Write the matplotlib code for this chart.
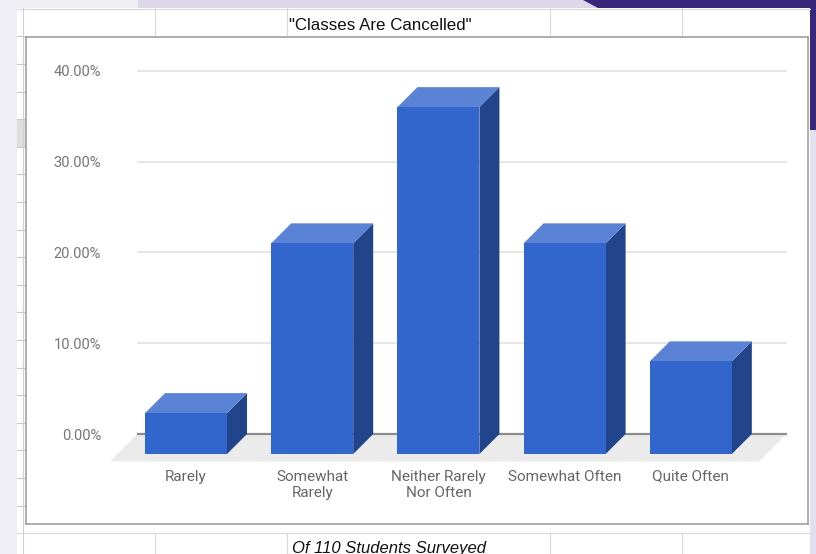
import numpy as np
import matplotlib.pyplot as plt
from matplotlib.patches import Polygon, Rectangle

# ---------------- data ----------------
categories = ["Rarely", "Somewhat\nRarely", "Neither Rarely\nNor Often", "Somewhat Often", "Quite Often"]
percent = [4.5, 23.2, 38.2, 23.2, 10.2]
y_ticks = [0, 10, 20, 30, 40]
title = '"Classes Are Cancelled"'
subtitle = "Of 110 Students Surveyed"

# ---------------- styling ----------------
FRONT = "#3366cc"
TOP = "#5b83d5"
SIDE = "#22448b"
FLOOR = "#ebebeb"
W, H = 816, 554


def fig_box(x0, y0, x1, y1):
    """pixel box (top-left origin) -> figure fraction rect args"""
    return (x0 / W, 1 - y1 / H), (x1 - x0) / W, (y1 - y0) / H


fig = plt.figure(figsize=(W / 100, H / 100), dpi=100)
fig.patch.set_facecolor("#efeef4")

# ---- surrounding screenshot decoration (spreadsheet + slide background) ----
def add_rect(x0, y0, x1, y1, color, z=0):
    xy, w, h = fig_box(x0, y0, x1, y1)
    fig.add_artist(Rectangle(xy, w, h, transform=fig.transFigure, color=color, zorder=z, lw=0))


def add_line(x0, y0, x1, y1, color, lw=1.0, z=1):
    fig.add_artist(plt.Line2D([x0 / W, x1 / W], [1 - y0 / H, 1 - y1 / H],
                              transform=fig.transFigure, color=color, lw=lw, zorder=z))


add_rect(138, 0, 600, 8, "#dcd8ea")
fig.add_artist(Polygon([(583 / W, 1), (W / W, 1), (W / W, 1 - 130 / H), (810 / W, 1 - 130 / H),
                        (810 / W, 1 - 8 / H), (598 / W, 1 - 8 / H)],
                       closed=True, transform=fig.transFigure, color="#38267a", lw=0, zorder=0))
add_rect(810, 130, 816, 554, "#e2dfee")
add_rect(17, 8, 810, 554, "white", z=0.5)
add_rect(17, 119, 26, 147, "#dedede", z=0.6)

# row markers on the left edge
for k in range(20):
    ry = 8.8 + 27.6 * k
    add_line(17, ry, 26, ry, "#c8c8c8", lw=0.8)
add_line(22.5, 8, 22.5, 554, "#cfcfcf", lw=0.8)

# header / footer cells
add_line(17, 8.5, 810, 8.5, "#d9d9d9", lw=0.8)
add_line(17, 533, 810, 533, "#d9d9d9", lw=0.8)
for cx in [155, 287, 550, 682]:
    add_line(cx, 8, cx, 37, "#d9d9d9", lw=0.8)
    add_line(cx, 533, cx, 554, "#d9d9d9", lw=0.8)

fig.text(289 / W, 1 - 25 / H, title, fontsize=12.2, family="Liberation Sans",
         ha="left", va="center", color="#111111")
fig.text(292 / W, 1 - 548 / H, subtitle, fontsize=12, family="Liberation Sans",
         style="italic", ha="left", va="center", color="#111111")

# ---------------- chart ----------------
xy, aw, ah = fig_box(26, 37, 808, 524)
ax = fig.add_axes([xy[0], xy[1], aw, ah])
ax.set_zorder(2)
ax.set_facecolor("white")

PX_X, PX_Y = 126.2, 9.08          # pixels per category / per percent
ZERO_PX, FIRST_PX = 434, 206      # pixel rows/cols of 0% and first back-centre
ax.set_xlim((26 - FIRST_PX) / PX_X, (808 - FIRST_PX) / PX_X)
ax.set_ylim((ZERO_PX - 524) / PX_Y, (ZERO_PX - 37) / PX_Y)

# depth offset in data units (from pixels)
inv = ax.transData.inverted()
o = ax.transData.transform((0, 0))
dx, dy = inv.transform((o[0] + 20, o[1] + 20))
fdx, fdy = inv.transform((o[0] + 27.5, o[1] + 27.5))

x = np.arange(len(categories))
bw = 0.65
xl, xr = x[0] - 0.543, x[-1] + 0.6

# floor
ax.add_patch(Polygon([(xl, 0), (xr, 0), (xr - fdx, -fdy), (xl - fdx, -fdy)],
                     closed=True, color=FLOOR, lw=0, zorder=1))
# gridlines and baseline on the back wall
ax.hlines(y_ticks[1:], xl, xr, color="#e4e4e4", lw=1.3, zorder=1.5)
ax.hlines(0, xl, xr, color="#8c8c8c", lw=1.6, zorder=1.6)

for xi, v in zip(x, percent):
    l, r = xi - bw / 2, xi + bw / 2
    ax.add_patch(Polygon([(r - dx, -dy), (r, 0), (r, v), (r - dx, v - dy)],
                         closed=True, color=SIDE, lw=0, zorder=3))
    ax.add_patch(Polygon([(l - dx, v - dy), (r - dx, v - dy), (r, v), (l, v)],
                         closed=True, color=TOP, lw=0, zorder=3))
    ax.add_patch(Rectangle((l - dx, -dy), bw, v, color=FRONT, lw=0, zorder=4))

ax.set_yticks(y_ticks)
ax.set_yticklabels([f"{t:.2f}%" for t in y_ticks])
ax.tick_params(axis="y", length=0, pad=-54, labelsize=10.5, labelcolor="#767676")
for t in ax.get_yticklabels():
    t.set_fontfamily("Roboto")

ax.set_xticks(x - dx)
ax.set_xticklabels(categories, linespacing=1.2)
ax.tick_params(axis="x", length=0, pad=-39, labelsize=11, labelcolor="#666666")
for t in ax.get_xticklabels():
    t.set_fontfamily("Roboto")

for s in ax.spines.values():
    s.set_color("#a0a0a0")
    s.set_linewidth(1.2)

fig.savefig("out.png", dpi=100, facecolor=fig.get_facecolor())
